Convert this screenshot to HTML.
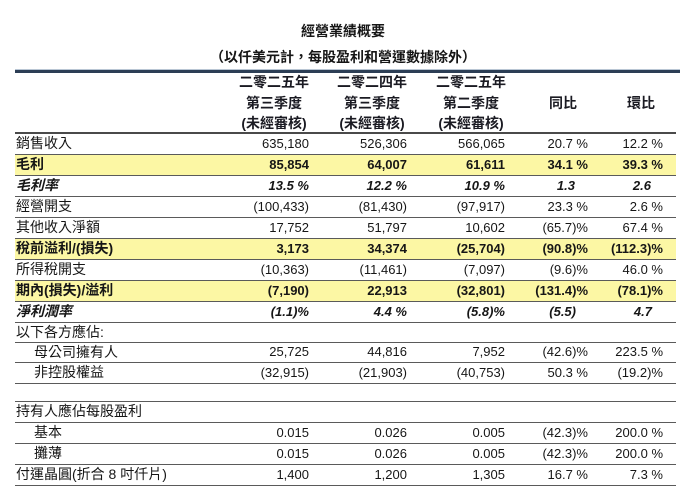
<!DOCTYPE html>
<html>
<head>
<meta charset="utf-8">
<style>
  html, body { margin:0; padding:0; background:#fff; }
  #c { position:relative; width:693px; height:487px; overflow:hidden; background:#fff;
       font-family:"Liberation Sans","Noto Sans CJK TC",sans-serif; color:#161616; }
  .t { position:absolute; white-space:nowrap; }
  .ln { position:absolute; left:15px; width:661px; height:1px; background:#5a5a5a; }
  .yl { position:absolute; left:15px; width:661px; height:21px; background:#fcf7a4; }
  .lab { position:absolute; left:16px; height:21px; line-height:21px; font-size:14px; white-space:nowrap; }
  .ind { left:34px; }
  .v { position:absolute; height:21px; line-height:21px; font-size:13px; white-space:nowrap; text-align:right; }
  .b { font-weight:bold; }
  .i { font-style:italic; }
  .hd { position:absolute; height:20px; line-height:20px; font-size:14px; font-weight:bold; text-align:center; width:100px; white-space:nowrap; color:#1a1a22; }
</style>
</head>
<body>
<div id="c">
  <!-- title -->
  <div class="t b" style="left:0;width:686px;text-align:center;top:21px;height:20px;line-height:20px;font-size:14px;">經營業績概要</div>
  <div class="t b" style="left:0;width:686px;text-align:center;top:47px;height:20px;line-height:20px;font-size:14px;">（以仟美元計，每股盈利和營運數據除外）</div>

  <!-- top double line -->
  <div style="position:absolute;left:15px;width:665px;top:69px;height:1px;background:#b9c6d4;"></div>
  <div style="position:absolute;left:15px;width:665px;top:70px;height:3px;background:#2c3e55;"></div>

  <!-- header -->
  <div class="hd" style="left:224px;top:72px;">二零二五年</div>
  <div class="hd" style="left:224px;top:93px;">第三季度</div>
  <div class="hd" style="left:224px;top:113px;">(未經審核)</div>
  <div class="hd" style="left:322px;top:72px;">二零二四年</div>
  <div class="hd" style="left:322px;top:93px;">第三季度</div>
  <div class="hd" style="left:322px;top:113px;">(未經審核)</div>
  <div class="hd" style="left:421px;top:72px;">二零二五年</div>
  <div class="hd" style="left:421px;top:93px;">第二季度</div>
  <div class="hd" style="left:421px;top:113px;">(未經審核)</div>
  <div class="hd" style="left:513px;top:93px;">同比</div>
  <div class="hd" style="left:591px;top:93px;">環比</div>

  <!-- yellow bands -->
  <div class="yl" style="top:154px;"></div>
  <div class="yl" style="top:238px;"></div>
  <div class="yl" style="top:280px;"></div>

  <!-- lines -->
  <div class="ln" style="top:132px;height:2px;background:#4a4a4a;"></div>
  <div class="ln" style="top:154px;"></div>
  <div class="ln" style="top:175px;"></div>
  <div class="ln" style="top:196px;"></div>
  <div class="ln" style="top:217px;"></div>
  <div class="ln" style="top:238px;"></div>
  <div class="ln" style="top:259px;"></div>
  <div class="ln" style="top:280px;"></div>
  <div class="ln" style="top:301px;"></div>
  <div class="ln" style="top:322px;"></div>
  <div class="ln" style="top:342px;"></div>
  <div class="ln" style="top:362px;"></div>
  <div class="ln" style="top:383px;"></div>
  <div class="ln" style="top:401px;"></div>
  <div class="ln" style="top:422px;"></div>
  <div class="ln" style="top:443px;"></div>
  <div class="ln" style="top:464px;"></div>
  <div class="ln" style="top:485px;"></div>

  <!-- Row 1 -->
  <div class="lab" style="top:133px;">銷售收入</div>
  <div class="v" style="top:133px;right:384px;">635,180</div>
  <div class="v" style="top:133px;right:286px;">526,306</div>
  <div class="v" style="top:133px;right:188px;">566,065</div>
  <div class="v" style="top:133px;right:105px;">20.7 %</div>
  <div class="v" style="top:133px;right:30px;">12.2 %</div>

  <!-- Row 2 -->
  <div class="lab b" style="top:154px;">毛利</div>
  <div class="v b" style="top:154px;right:384px;">85,854</div>
  <div class="v b" style="top:154px;right:286px;">64,007</div>
  <div class="v b" style="top:154px;right:188px;">61,611</div>
  <div class="v b" style="top:154px;right:105px;">34.1 %</div>
  <div class="v b" style="top:154px;right:30px;">39.3 %</div>

  <!-- Row 3 -->
  <div class="lab b i" style="top:175px;">毛利率</div>
  <div class="v b i" style="top:175px;right:384px;">13.5 %</div>
  <div class="v b i" style="top:175px;right:286px;">12.2 %</div>
  <div class="v b i" style="top:175px;right:188px;">10.9 %</div>
  <div class="v b i" style="top:175px;right:118px;">1.3</div>
  <div class="v b i" style="top:175px;right:42px;">2.6</div>

  <!-- Row 4 -->
  <div class="lab" style="top:196px;">經營開支</div>
  <div class="v" style="top:196px;right:384px;">(100,433)</div>
  <div class="v" style="top:196px;right:286px;">(81,430)</div>
  <div class="v" style="top:196px;right:188px;">(97,917)</div>
  <div class="v" style="top:196px;right:105px;">23.3 %</div>
  <div class="v" style="top:196px;right:30px;">2.6 %</div>

  <!-- Row 5 -->
  <div class="lab" style="top:217px;">其他收入淨額</div>
  <div class="v" style="top:217px;right:384px;">17,752</div>
  <div class="v" style="top:217px;right:286px;">51,797</div>
  <div class="v" style="top:217px;right:188px;">10,602</div>
  <div class="v" style="top:217px;right:105px;">(65.7)%</div>
  <div class="v" style="top:217px;right:30px;">67.4 %</div>

  <!-- Row 6 -->
  <div class="lab b" style="top:238px;">稅前溢利/(損失)</div>
  <div class="v b" style="top:238px;right:384px;">3,173</div>
  <div class="v b" style="top:238px;right:286px;">34,374</div>
  <div class="v b" style="top:238px;right:188px;">(25,704)</div>
  <div class="v b" style="top:238px;right:105px;">(90.8)%</div>
  <div class="v b" style="top:238px;right:30px;">(112.3)%</div>

  <!-- Row 7 -->
  <div class="lab" style="top:259px;">所得稅開支</div>
  <div class="v" style="top:259px;right:384px;">(10,363)</div>
  <div class="v" style="top:259px;right:286px;">(11,461)</div>
  <div class="v" style="top:259px;right:188px;">(7,097)</div>
  <div class="v" style="top:259px;right:105px;">(9.6)%</div>
  <div class="v" style="top:259px;right:30px;">46.0 %</div>

  <!-- Row 8 -->
  <div class="lab b" style="top:280px;">期內(損失)/溢利</div>
  <div class="v b" style="top:280px;right:384px;">(7,190)</div>
  <div class="v b" style="top:280px;right:286px;">22,913</div>
  <div class="v b" style="top:280px;right:188px;">(32,801)</div>
  <div class="v b" style="top:280px;right:105px;">(131.4)%</div>
  <div class="v b" style="top:280px;right:30px;">(78.1)%</div>

  <!-- Row 9 -->
  <div class="lab b i" style="top:301px;">淨利潤率</div>
  <div class="v b i" style="top:301px;right:384px;">(1.1)%</div>
  <div class="v b i" style="top:301px;right:286px;">4.4 %</div>
  <div class="v b i" style="top:301px;right:188px;">(5.8)%</div>
  <div class="v b i" style="top:301px;right:117px;">(5.5)</div>
  <div class="v b i" style="top:301px;right:41px;">4.7</div>

  <!-- Row 10 -->
  <div class="lab" style="top:322px;height:20px;line-height:20px;">以下各方應佔:</div>

  <!-- Row 11 -->
  <div class="lab ind" style="top:342px;height:20px;line-height:20px;">母公司擁有人</div>
  <div class="v" style="top:342px;height:20px;line-height:20px;right:384px;">25,725</div>
  <div class="v" style="top:342px;height:20px;line-height:20px;right:286px;">44,816</div>
  <div class="v" style="top:342px;height:20px;line-height:20px;right:188px;">7,952</div>
  <div class="v" style="top:342px;height:20px;line-height:20px;right:105px;">(42.6)%</div>
  <div class="v" style="top:342px;height:20px;line-height:20px;right:30px;">223.5 %</div>

  <!-- Row 12 -->
  <div class="lab ind" style="top:362px;">非控股權益</div>
  <div class="v" style="top:362px;right:384px;">(32,915)</div>
  <div class="v" style="top:362px;right:286px;">(21,903)</div>
  <div class="v" style="top:362px;right:188px;">(40,753)</div>
  <div class="v" style="top:362px;right:105px;">50.3 %</div>
  <div class="v" style="top:362px;right:30px;">(19.2)%</div>

  <!-- Row 13 -->
  <div class="lab" style="top:401px;">持有人應佔每股盈利</div>

  <!-- Row 14 -->
  <div class="lab ind" style="top:422px;">基本</div>
  <div class="v" style="top:422px;right:384px;">0.015</div>
  <div class="v" style="top:422px;right:286px;">0.026</div>
  <div class="v" style="top:422px;right:188px;">0.005</div>
  <div class="v" style="top:422px;right:105px;">(42.3)%</div>
  <div class="v" style="top:422px;right:30px;">200.0 %</div>

  <!-- Row 15 -->
  <div class="lab ind" style="top:443px;">攤薄</div>
  <div class="v" style="top:443px;right:384px;">0.015</div>
  <div class="v" style="top:443px;right:286px;">0.026</div>
  <div class="v" style="top:443px;right:188px;">0.005</div>
  <div class="v" style="top:443px;right:105px;">(42.3)%</div>
  <div class="v" style="top:443px;right:30px;">200.0 %</div>

  <!-- Row 16 -->
  <div class="lab" style="top:464px;">付運晶圓(折合 8 吋仟片)</div>
  <div class="v" style="top:464px;right:384px;">1,400</div>
  <div class="v" style="top:464px;right:286px;">1,200</div>
  <div class="v" style="top:464px;right:188px;">1,305</div>
  <div class="v" style="top:464px;right:105px;">16.7 %</div>
  <div class="v" style="top:464px;right:30px;">7.3 %</div>
</div>
</body>
</html>
